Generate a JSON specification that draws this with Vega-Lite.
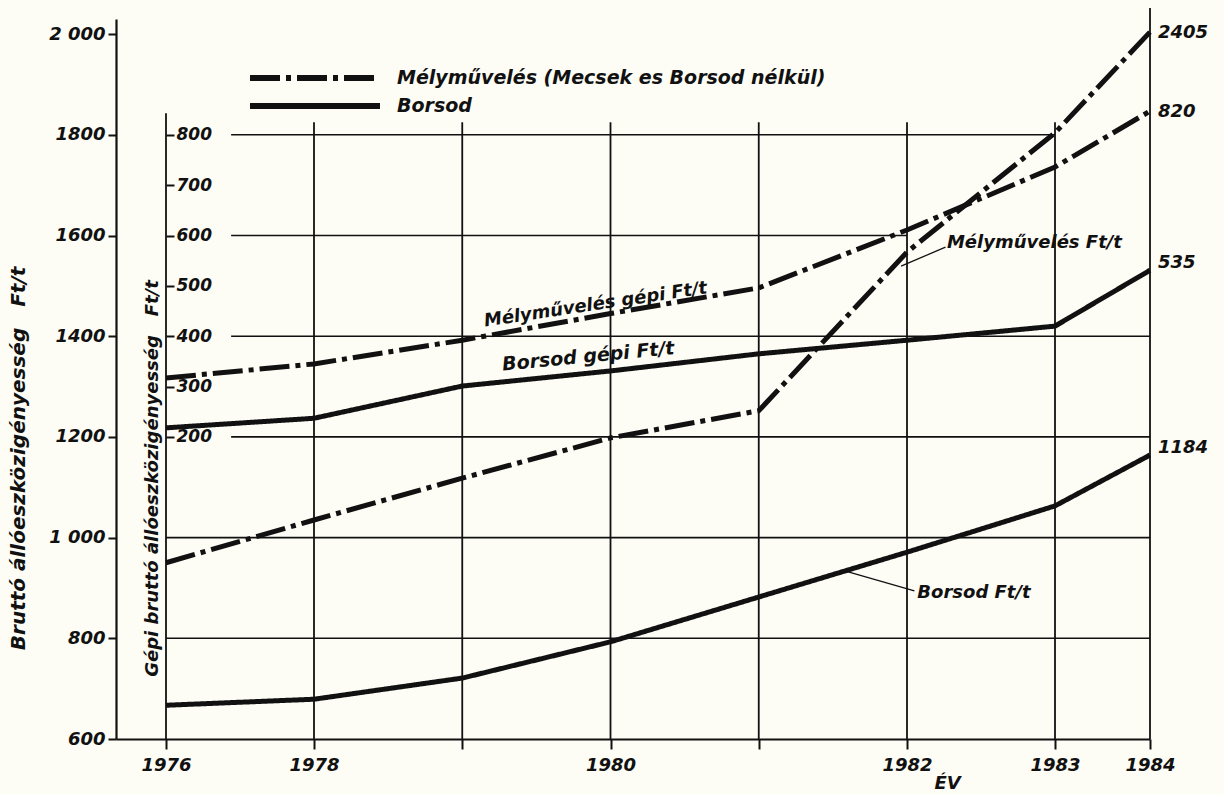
{
  "$schema": "https://vega.github.io/schema/vega-lite/v6.json",
  "width": 1034,
  "height": 720,
  "autosize": {"type": "none"},
  "padding": {"left": 116, "top": 19, "right": 74, "bottom": 55},
  "background": "#fdfdf6",
  "config": {
    "view": {"stroke": null},
    "font": "DejaVu Sans",
    "axis": {
      "labelFont": "DejaVu Sans",
      "labelFontWeight": "bold",
      "labelFontStyle": "italic",
      "labelFontSize": 18,
      "labelColor": "#111",
      "titleFont": "DejaVu Sans",
      "titleFontWeight": "bold",
      "titleFontStyle": "italic",
      "titleFontSize": 20,
      "titleColor": "#111",
      "domainColor": "#111",
      "domainWidth": 2.2,
      "tickColor": "#111",
      "tickWidth": 2,
      "grid": false
    },
    "legend": {
      "labelFont": "DejaVu Sans",
      "labelFontWeight": "bold",
      "labelFontStyle": "italic",
      "labelFontSize": 19,
      "labelColor": "#111",
      "labelLimit": 800
    },
    "text": {"font": "DejaVu Sans", "fontWeight": "bold", "fontStyle": "italic", "fontSize": 18, "fill": "#111"}
  },
  "datasets": {
    "series": [
      {"series": "Mélyművelés Ft/t", "type": "Mélyművelés (Mecsek es Borsod nélkül)", "axis": "total", "year": 1976, "value": 950},
      {"series": "Mélyművelés Ft/t", "type": "Mélyművelés (Mecsek es Borsod nélkül)", "axis": "total", "year": 1978, "value": 1035},
      {"series": "Mélyművelés Ft/t", "type": "Mélyművelés (Mecsek es Borsod nélkül)", "axis": "total", "year": 1979, "value": 1118},
      {"series": "Mélyművelés Ft/t", "type": "Mélyművelés (Mecsek es Borsod nélkül)", "axis": "total", "year": 1980, "value": 1198},
      {"series": "Mélyművelés Ft/t", "type": "Mélyművelés (Mecsek es Borsod nélkül)", "axis": "total", "year": 1981, "value": 1252},
      {"series": "Mélyművelés Ft/t", "type": "Mélyművelés (Mecsek es Borsod nélkül)", "axis": "total", "year": 1982, "value": 1567},
      {"series": "Mélyművelés Ft/t", "type": "Mélyművelés (Mecsek es Borsod nélkül)", "axis": "total", "year": 1983, "value": 1804},
      {"series": "Mélyművelés Ft/t", "type": "Mélyművelés (Mecsek es Borsod nélkül)", "axis": "total", "year": 1984, "value": 2004, "reported": "2405"},
      {"series": "Borsod Ft/t", "type": "Borsod", "axis": "total", "year": 1976, "value": 667},
      {"series": "Borsod Ft/t", "type": "Borsod", "axis": "total", "year": 1978, "value": 679},
      {"series": "Borsod Ft/t", "type": "Borsod", "axis": "total", "year": 1979, "value": 721},
      {"series": "Borsod Ft/t", "type": "Borsod", "axis": "total", "year": 1980, "value": 793},
      {"series": "Borsod Ft/t", "type": "Borsod", "axis": "total", "year": 1981, "value": 882},
      {"series": "Borsod Ft/t", "type": "Borsod", "axis": "total", "year": 1982, "value": 971},
      {"series": "Borsod Ft/t", "type": "Borsod", "axis": "total", "year": 1983, "value": 1063},
      {"series": "Borsod Ft/t", "type": "Borsod", "axis": "total", "year": 1984, "value": 1164, "reported": "1184"},
      {"series": "Mélyművelés gépi Ft/t", "type": "Mélyművelés (Mecsek es Borsod nélkül)", "axis": "gépi", "year": 1976, "value": 317},
      {"series": "Mélyművelés gépi Ft/t", "type": "Mélyművelés (Mecsek es Borsod nélkül)", "axis": "gépi", "year": 1978, "value": 345},
      {"series": "Mélyművelés gépi Ft/t", "type": "Mélyművelés (Mecsek es Borsod nélkül)", "axis": "gépi", "year": 1979, "value": 392},
      {"series": "Mélyművelés gépi Ft/t", "type": "Mélyművelés (Mecsek es Borsod nélkül)", "axis": "gépi", "year": 1980, "value": 445},
      {"series": "Mélyművelés gépi Ft/t", "type": "Mélyművelés (Mecsek es Borsod nélkül)", "axis": "gépi", "year": 1981, "value": 496},
      {"series": "Mélyművelés gépi Ft/t", "type": "Mélyművelés (Mecsek es Borsod nélkül)", "axis": "gépi", "year": 1982, "value": 611},
      {"series": "Mélyművelés gépi Ft/t", "type": "Mélyművelés (Mecsek es Borsod nélkül)", "axis": "gépi", "year": 1983, "value": 736},
      {"series": "Mélyművelés gépi Ft/t", "type": "Mélyművelés (Mecsek es Borsod nélkül)", "axis": "gépi", "year": 1984, "value": 847, "reported": "820"},
      {"series": "Borsod gépi Ft/t", "type": "Borsod", "axis": "gépi", "year": 1976, "value": 218},
      {"series": "Borsod gépi Ft/t", "type": "Borsod", "axis": "gépi", "year": 1978, "value": 237},
      {"series": "Borsod gépi Ft/t", "type": "Borsod", "axis": "gépi", "year": 1979, "value": 301},
      {"series": "Borsod gépi Ft/t", "type": "Borsod", "axis": "gépi", "year": 1980, "value": 331},
      {"series": "Borsod gépi Ft/t", "type": "Borsod", "axis": "gépi", "year": 1981, "value": 365},
      {"series": "Borsod gépi Ft/t", "type": "Borsod", "axis": "gépi", "year": 1982, "value": 392},
      {"series": "Borsod gépi Ft/t", "type": "Borsod", "axis": "gépi", "year": 1983, "value": 420},
      {"series": "Borsod gépi Ft/t", "type": "Borsod", "axis": "gépi", "year": 1984, "value": 531, "reported": "535"}
    ],
    "hgrid": [
      {"level": 800, "from": 1976, "to": 1984},
      {"level": 1000, "from": 1976, "to": 1984},
      {"level": 1200, "from": 1976.88, "to": 1984},
      {"level": 1400, "from": 1976.88, "to": 1984},
      {"level": 1600, "from": 1976.88, "to": 1982},
      {"level": 1800, "from": 1976.88, "to": 1983}
    ],
    "vgrid": [
      {"year": 1976, "low": 600, "high": 1843},
      {"year": 1978, "low": 600, "high": 1825},
      {"year": 1979, "low": 600, "high": 1825},
      {"year": 1980, "low": 600, "high": 1825},
      {"year": 1981, "low": 600, "high": 1825},
      {"year": 1982, "low": 600, "high": 1825},
      {"year": 1983, "low": 600, "high": 1825},
      {"year": 1984, "low": 600, "high": 2052}
    ],
    "leaders": [
      {"x1": 1982.26, "y1": 1577, "x2": 1981.96, "y2": 1539},
      {"x1": 1982.05, "y1": 894, "x2": 1981.58, "y2": 934}
    ],
    "labels": [
      {"text": "Mélyművelés gépi Ft/t", "year": 1979.9, "value": 1462},
      {"text": "Borsod gépi Ft/t", "year": 1979.85, "value": 1360},
      {"text": "Mélyművelés Ft/t", "year": 1982.27, "value": 1585},
      {"text": "Borsod Ft/t", "year": 1982.07, "value": 890}
    ]
  },
  "resolve": {"scale": {"y": "independent"}},
  "layer": [
    {
      "layer": [
        {
          "data": {"name": "hgrid"},
          "mark": {"type": "rule", "color": "#111", "strokeWidth": 1.6},
          "encoding": {
            "x": {
              "field": "from", "type": "quantitative",
              "scale": {"domain": [1975.32, 1976, 1978, 1982, 1983, 1984], "range": [0, 50, 198, 791, 939, 1034], "zero": false, "nice": false},
              "axis": {
                "title": "ÉV",
                "values": [1976, 1978, 1979, 1980, 1981, 1982, 1983, 1984],
                "format": "d",
                "labelExpr": "datum.value == 1979 || datum.value == 1981 ? '' : datum.label",
                "tickSize": 10,
                "labelPadding": 7,
                "labelFlush": false,
                "labelOverlap": false,
                "titleFontSize": 18,
                "titleX": 831,
                "titleY": 44,
                "titleAlign": "center",
                "titleBaseline": "middle"
              }
            },
            "x2": {"field": "to"},
            "y": {
              "field": "level", "type": "quantitative",
              "scale": {"domain": [600, 2030], "zero": false, "nice": false},
              "axis": {
                "title": "Bruttó állóeszközigényesség\u00a0\u00a0\u00a0Ft/t",
                "values": [600, 800, 1000, 1200, 1400, 1600, 1800, 2000],
                "labelExpr": "datum.value == 2000 ? '2 000' : datum.value == 1000 ? '1 000' : datum.label",
                "format": "d",
                "tickSize": 8,
                "labelPadding": 3,
                "labelFlush": false,
                "labelOverlap": false,
                "titleAngle": -90,
                "titleX": -98,
                "titleY": 439,
                "titleAlign": "center",
                "titleBaseline": "middle"
              }
            }
          }
        },
        {
          "data": {"name": "vgrid"},
          "mark": {"type": "rule", "color": "#111", "strokeWidth": 1.8},
          "encoding": {
            "x": {"field": "year", "type": "quantitative",
              "scale": {"domain": [1975.32, 1976, 1978, 1982, 1983, 1984], "range": [0, 50, 198, 791, 939, 1034], "zero": false, "nice": false}},
            "y": {"field": "low", "type": "quantitative",
              "scale": {"domain": [600, 2030], "zero": false, "nice": false}},
            "y2": {"field": "high"}
          }
        },
        {
          "data": {"name": "series"},
          "transform": [{"filter": "datum.axis == 'total'"}],
          "mark": {"type": "line", "color": "#111", "strokeWidth": 5, "strokeCap": "butt"},
          "encoding": {
            "x": {"field": "year", "type": "quantitative",
              "scale": {"domain": [1975.32, 1976, 1978, 1982, 1983, 1984], "range": [0, 50, 198, 791, 939, 1034], "zero": false, "nice": false}},
            "y": {"field": "value", "type": "quantitative",
              "scale": {"domain": [600, 2030], "zero": false, "nice": false}},
            "detail": {"field": "series"},
            "strokeDash": {
              "field": "type", "type": "nominal",
              "scale": {"domain": ["Mélyművelés (Mecsek es Borsod nélkül)", "Borsod"], "range": [[30, 6, 5, 6], [1, 0]]},
              "legend": {
                "title": null,
                "orient": "none",
                "legendX": 183,
                "legendY": 43,
                "padding": 0,
                "symbolType": "M-5,0H5",
                "symbolSize": 676,
                "symbolStrokeWidth": 6,
                "symbolStrokeColor": "#111",
                "symbolFillColor": "transparent",
                "labelOffset": 66,
                "rowPadding": -4
              }
            }
          }
        },
        {
          "data": {"name": "series"},
          "transform": [{"filter": "datum.reported == '2405'"}],
          "mark": {"type": "text", "align": "left", "baseline": "middle", "dx": 8, "dy": 1},
          "encoding": {
            "x": {"field": "year", "type": "quantitative",
              "scale": {"domain": [1975.32, 1976, 1978, 1982, 1983, 1984], "range": [0, 50, 198, 791, 939, 1034], "zero": false, "nice": false}},
            "y": {"field": "value", "type": "quantitative",
              "scale": {"domain": [600, 2030], "zero": false, "nice": false}},
            "text": {"field": "reported"}
          }
        },
        {
          "data": {"name": "series"},
          "transform": [{"filter": "datum.reported == '1184'"}],
          "mark": {"type": "text", "align": "left", "baseline": "middle", "dx": 8, "dy": -7},
          "encoding": {
            "x": {"field": "year", "type": "quantitative",
              "scale": {"domain": [1975.32, 1976, 1978, 1982, 1983, 1984], "range": [0, 50, 198, 791, 939, 1034], "zero": false, "nice": false}},
            "y": {"field": "value", "type": "quantitative",
              "scale": {"domain": [600, 2030], "zero": false, "nice": false}},
            "text": {"field": "reported"}
          }
        },
        {
          "data": {"name": "leaders"},
          "mark": {"type": "rule", "color": "#111", "strokeWidth": 1.3},
          "encoding": {
            "x": {"field": "x1", "type": "quantitative",
              "scale": {"domain": [1975.32, 1976, 1978, 1982, 1983, 1984], "range": [0, 50, 198, 791, 939, 1034], "zero": false, "nice": false}},
            "y": {"field": "y1", "type": "quantitative",
              "scale": {"domain": [600, 2030], "zero": false, "nice": false}},
            "x2": {"field": "x2"},
            "y2": {"field": "y2"}
          }
        },
        {
          "data": {"name": "labels"},
          "transform": [{"filter": "datum.text == 'Mélyművelés gépi Ft/t'"}],
          "mark": {"type": "text", "align": "center", "baseline": "middle", "angle": -8.5},
          "encoding": {
            "x": {"field": "year", "type": "quantitative",
              "scale": {"domain": [1975.32, 1976, 1978, 1982, 1983, 1984], "range": [0, 50, 198, 791, 939, 1034], "zero": false, "nice": false}},
            "y": {"field": "value", "type": "quantitative",
              "scale": {"domain": [600, 2030], "zero": false, "nice": false}},
            "text": {"field": "text"}
          }
        },
        {
          "data": {"name": "labels"},
          "transform": [{"filter": "datum.text == 'Borsod gépi Ft/t'"}],
          "mark": {"type": "text", "align": "center", "baseline": "middle", "angle": -5.5, "fontSize": 19},
          "encoding": {
            "x": {"field": "year", "type": "quantitative",
              "scale": {"domain": [1975.32, 1976, 1978, 1982, 1983, 1984], "range": [0, 50, 198, 791, 939, 1034], "zero": false, "nice": false}},
            "y": {"field": "value", "type": "quantitative",
              "scale": {"domain": [600, 2030], "zero": false, "nice": false}},
            "text": {"field": "text"}
          }
        },
        {
          "data": {"name": "labels"},
          "transform": [{"filter": "datum.text == 'Mélyművelés Ft/t' || datum.text == 'Borsod Ft/t'"}],
          "mark": {"type": "text", "align": "left", "baseline": "middle"},
          "encoding": {
            "x": {"field": "year", "type": "quantitative",
              "scale": {"domain": [1975.32, 1976, 1978, 1982, 1983, 1984], "range": [0, 50, 198, 791, 939, 1034], "zero": false, "nice": false}},
            "y": {"field": "value", "type": "quantitative",
              "scale": {"domain": [600, 2030], "zero": false, "nice": false}},
            "text": {"field": "text"}
          }
        }
      ]
    },
    {
      "layer": [
        {
          "data": {"name": "series"},
          "transform": [{"filter": "datum.axis == 'gépi'"}],
          "mark": {"type": "line", "color": "#111", "strokeWidth": 5, "strokeCap": "butt"},
          "encoding": {
            "x": {"field": "year", "type": "quantitative",
              "scale": {"domain": [1975.32, 1976, 1978, 1982, 1983, 1984], "range": [0, 50, 198, 791, 939, 1034], "zero": false, "nice": false}},
            "y": {
              "field": "value", "type": "quantitative",
              "scale": {"domain": [-400, 1030], "zero": false, "nice": false},
              "axis": {
                "orient": "right",
                "offset": -984,
                "domain": false,
                "title": "Gépi bruttó állóeszközigényesség\u00a0\u00a0\u00a0Ft/t",
                "values": [200, 300, 400, 500, 600, 700, 800],
                "format": "d",
                "tickSize": 8,
                "labelPadding": 2,
                "labelFlush": false,
                "labelOverlap": false,
                "labelFontSize": 17,
                "titleAngle": -90,
                "titleX": -14,
                "titleY": 459,
                "titleAlign": "center",
                "titleBaseline": "middle",
                "titleFontSize": 18
              }
            },
            "detail": {"field": "series"},
            "strokeDash": {
              "field": "type", "type": "nominal",
              "scale": {"domain": ["Mélyművelés (Mecsek es Borsod nélkül)", "Borsod"], "range": [[30, 6, 5, 6], [1, 0]]}
            }
          }
        },
        {
          "data": {"name": "series"},
          "transform": [{"filter": "datum.reported == '820'"}],
          "mark": {"type": "text", "align": "left", "baseline": "middle", "dx": 8, "dy": 1},
          "encoding": {
            "x": {"field": "year", "type": "quantitative",
              "scale": {"domain": [1975.32, 1976, 1978, 1982, 1983, 1984], "range": [0, 50, 198, 791, 939, 1034], "zero": false, "nice": false}},
            "y": {"field": "value", "type": "quantitative",
              "scale": {"domain": [-400, 1030], "zero": false, "nice": false}},
            "text": {"field": "reported"}
          }
        },
        {
          "data": {"name": "series"},
          "transform": [{"filter": "datum.reported == '535'"}],
          "mark": {"type": "text", "align": "left", "baseline": "middle", "dx": 8, "dy": -7},
          "encoding": {
            "x": {"field": "year", "type": "quantitative",
              "scale": {"domain": [1975.32, 1976, 1978, 1982, 1983, 1984], "range": [0, 50, 198, 791, 939, 1034], "zero": false, "nice": false}},
            "y": {"field": "value", "type": "quantitative",
              "scale": {"domain": [-400, 1030], "zero": false, "nice": false}},
            "text": {"field": "reported"}
          }
        }
      ]
    }
  ]
}
